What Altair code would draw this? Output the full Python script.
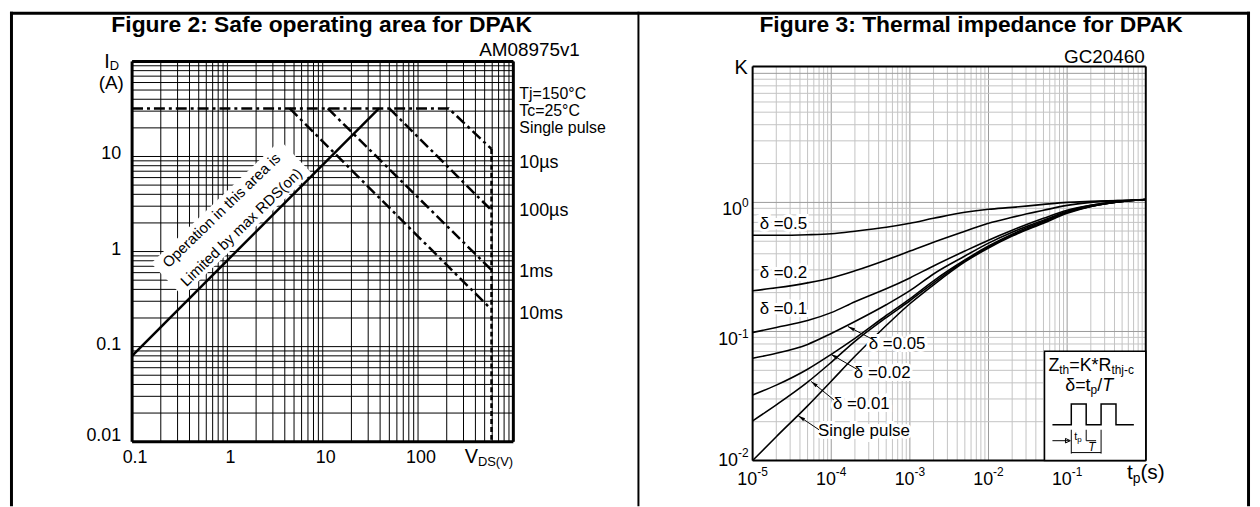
import math
import altair as alt
import pandas as pd

FONT = "Liberation Sans"

# ================= Figure 2 : safe operating area (DPAK) =================
soa_vds_ticks = [0.1, 1, 10, 100]
soa_vds_tick_text = ["0.1", "1", "10", "100"]
soa_id_ticks = [0.01, 0.1, 1, 10]
soa_id_tick_text = ["0.01", "0.1", "1", "10"]

rds_vds = [0.1, 39]
rds_id = [0.08, 32]

pulse_10us_vds = [0.1, 210, 590]
pulse_10us_id = [32, 32, 12]
pulse_100us_vds = [50, 576]
pulse_100us_id = [32, 2.78]
pulse_1ms_vds = [11.3, 590]
pulse_1ms_id = [32, 0.64]
pulse_10ms_vds = [4.5, 550]
pulse_10ms_id = [32, 0.263]
vdss_vds = [590, 590]
vdss_id = [12, 0.01]

pulse_text = ["10µs", "100µs", "1ms", "10ms"]
pulse_text_id = [8.6, 2.7, 0.61, 0.22]
cond_text = ["Tj=150°C", "Tc=25°C", "Single pulse"]

note_text = ["Operation in this area is", "Limited by max RDS(on)"]
note_vds = [0.866, 1.40]
note_id = [2.71, 1.80]
note_box_vds = [0.232, 5.23]
note_box_id = [0.504, 9.94]

# ================= Figure 3 : thermal impedance (DPAK) =================
tp = [1e-5, 2e-5, 5e-5, 1e-4, 2e-4, 5e-4, 1e-3, 2e-3, 5e-3, 1e-2, 2e-2, 5e-2, 1e-1, 2e-1, 5e-1, 1.0]
k_d05 = [0.557, 0.557, 0.562, 0.572, 0.598, 0.642, 0.690, 0.753, 0.838, 0.884, 0.915, 0.965, 1.000, 1.018, 1.036, 1.054]
k_d02 = [0.207, 0.218, 0.238, 0.260, 0.295, 0.358, 0.420, 0.492, 0.598, 0.690, 0.767, 0.868, 0.948, 1.000, 1.036, 1.054]
k_d01 = [0.0982, 0.1074, 0.1215, 0.140, 0.170, 0.214, 0.260, 0.322, 0.420, 0.510, 0.609, 0.753, 0.868, 0.948, 1.018, 1.054]
k_d005 = [0.0620, 0.0677, 0.0794, 0.0965, 0.1194, 0.161, 0.207, 0.279, 0.384, 0.484, 0.588, 0.727, 0.853, 0.948, 1.018, 1.054]
k_d002 = [0.0322, 0.0384, 0.0510, 0.0665, 0.0884, 0.133, 0.179, 0.247, 0.358, 0.459, 0.567, 0.714, 0.838, 0.932, 1.018, 1.054]
k_d001 = [0.0203, 0.0270, 0.0405, 0.0577, 0.0838, 0.128, 0.173, 0.238, 0.352, 0.451, 0.557, 0.702, 0.838, 0.932, 1.018, 1.054]
k_single = [0.0100, 0.0153, 0.0265, 0.0412, 0.0642, 0.1112, 0.164, 0.230, 0.346, 0.443, 0.548, 0.690, 0.823, 0.932, 1.018, 1.054]
zth_series = ["d05", "d02", "d01", "d005", "d002", "d001", "single"]
zth_values = [k_d05, k_d02, k_d01, k_d005, k_d002, k_d001, k_single]

zth_label_text = ["δ =0.5", "δ =0.2", "δ =0.1", "δ =0.05", "δ =0.02", "δ =0.01", "Single pulse"]
zth_label_tp = [1.23e-5, 1.23e-5, 1.23e-5, 3.0e-4, 1.94e-4, 1.05e-4, 6.8e-5]
zth_label_k = [0.677, 0.284, 0.148, 0.0794, 0.0475, 0.0274, 0.0170]
arrow_tail_tp = [3.37e-4, 2.12e-4, 1.08e-4, 7.01e-5]
arrow_tail_k = [0.0868, 0.0510, 0.0295, 0.0173]
arrow_head_tp = [1.63e-4, 9.94e-5, 5.56e-5, 3.81e-5]
arrow_head_k = [0.1093, 0.0665, 0.041, 0.0222]

zth_x_ticks = [1e-5, 1e-4, 1e-3, 1e-2, 1e-1]
zth_x_exp = ["-5", "-4", "-3", "-2", "-1"]
zth_y_ticks = [0.01, 0.1, 1]
zth_y_exp = ["-2", "-1", "0"]

# ================= layout =================
W1, H1 = 384, 383
W2, H2 = 396, 402
Y2_TOP = 5
GAP = 241
K_TOP = 11.32

X1 = alt.Scale(type="log", domain=[0.1, 1000])
Y1 = alt.Scale(type="log", domain=[0.01, 100])
X2 = alt.Scale(type="log", domain=[1e-5, 1])
Y2 = alt.Scale(type="log", domain=[0.01, K_TOP], range=[H2, Y2_TOP])

ONE = pd.DataFrame({"o": [0]})

CW = {"0": 556, "1": 556, "2": 556, "3": 556, "4": 556, "5": 556, "6": 556, "7": 556,
      "8": 556, "9": 556, " ": 278, ".": 278, "-": 333, "(": 333, ")": 333, "=": 584,
      "*": 389, "/": 278, "δ": 556, "D": 722, "S": 667, "V": 667, "K": 667, "R": 722,
      "Z": 611, "T": 611, "A": 667, "I": 278, "s": 500, "t": 278, "p": 556, "h": 556,
      "j": 222, "c": 500}


def tw(s, size):
    return sum(CW.get(c, 556) for c in s) * size / 1000.0


def rule(x1, y1, x2=None, y2=None, width=1.0, color="black"):
    enc = {"x": alt.value(x1), "y": alt.value(y1)}
    if x2 is not None:
        enc["x2"] = alt.value(x2)
    if y2 is not None:
        enc["y2"] = alt.value(y2)
    return alt.Chart(ONE).mark_rule(color=color, strokeWidth=width).encode(**enc)


def label(text, x, y, size, align="left", baseline="alphabetic", bold=False, italic=False):
    kw = dict(text=text, font=FONT, fontSize=size, align=align, baseline=baseline, color="black")
    if bold:
        kw["fontWeight"] = "bold"
    if italic:
        kw["fontStyle"] = "italic"
    return alt.Chart(ONE).mark_text(**kw).encode(x=alt.value(x), y=alt.value(y))


def rich(x, y, parts, anchor="left"):
    total = sum(tw(p[0], p[1]) for p in parts)
    cur = x - {"left": 0, "center": total / 2, "right": total}[anchor]
    out = []
    for t, s, dy, it in parts:
        out.append(label(t, cur, y + dy, s, italic=it))
        cur += tw(t, s)
    return out


# ----------------------------- left panel -----------------------------
soa_vgrid = [m * 10.0 ** e for e in (-1, 0, 1, 2) for m in range(1, 10)] + [1000.0]
soa_hgrid = [m * 10.0 ** e for e in (-2, -1, 0, 1) for m in range(1, 10)] + [100.0]

def xv1(f="v"):
    return alt.X(f"{f}:Q", scale=X1, axis=None)

def yi1(f="i"):
    return alt.Y(f"{f}:Q", scale=Y1, axis=None)

L = []
L.append(alt.Chart(pd.DataFrame({"v": soa_vgrid})).mark_rule(color="black", strokeWidth=1)
         .encode(x=xv1(), y=alt.value(0), y2=alt.value(H1)))
L.append(alt.Chart(pd.DataFrame({"i": soa_hgrid})).mark_rule(color="black", strokeWidth=1)
         .encode(y=yi1(), x=alt.value(0), x2=alt.value(W1)))

L.append(alt.Chart(pd.DataFrame({"v": note_box_vds, "i": note_box_id}))
         .mark_line(color="white", strokeWidth=46, strokeCap="butt").encode(x=xv1(), y=yi1()))
L.append(alt.Chart(pd.DataFrame({"v": note_vds, "i": note_id, "t": note_text}))
         .mark_text(font=FONT, fontSize=15, angle=316, align="center", baseline="middle", color="black")
         .encode(x=xv1(), y=yi1(), text="t:N"))

L.append(alt.Chart(pd.DataFrame({"v": rds_vds, "i": rds_id}))
         .mark_line(color="black", strokeWidth=2.5).encode(x=xv1(), y=yi1()))

prow = []
for name, vs, iis in [("10us", pulse_10us_vds, pulse_10us_id), ("100us", pulse_100us_vds, pulse_100us_id),
                      ("1ms", pulse_1ms_vds, pulse_1ms_id), ("10ms", pulse_10ms_vds, pulse_10ms_id)]:
    for o, (v, i) in enumerate(zip(vs, iis)):
        prow.append({"s": name, "o": o, "v": v, "i": i})
L.append(alt.Chart(pd.DataFrame(prow))
         .mark_line(color="black", strokeWidth=2.5, strokeDash=[11, 4, 3, 4])
         .encode(x=xv1(), y=yi1(), detail="s:N", order="o:Q"))
L.append(alt.Chart(pd.DataFrame({"v": vdss_vds, "i": vdss_id, "o": [0, 1]}))
         .mark_line(color="black", strokeWidth=2.5, strokeDash=[5, 3])
         .encode(x=xv1(), y=yi1(), order="o:Q"))

# plot frame
L += [rule(0, 0, W1, None, 3), rule(0, H1, W1, None, 3), rule(0, 0, None, H1, 3), rule(W1, 0, None, H1, 3)]

# tick labels
L.append(alt.Chart(pd.DataFrame({"v": soa_vds_ticks, "t": soa_vds_tick_text}))
         .mark_text(font=FONT, fontSize=18, align="center", baseline="alphabetic", color="black", dx=3)
         .encode(x=xv1(), y=alt.value(404), text="t:N"))
L.append(alt.Chart(pd.DataFrame({"i": soa_id_ticks[1:], "t": soa_id_tick_text[1:]}))
         .mark_text(font=FONT, fontSize=18, align="right", baseline="middle", dy=-2, color="black")
         .encode(y=yi1(), x=alt.value(-11), text="t:N"))
L.append(alt.Chart(pd.DataFrame({"i": soa_id_ticks[:1], "t": soa_id_tick_text[:1]}))
         .mark_text(font=FONT, fontSize=18, align="right", baseline="middle", dy=-6, color="black")
         .encode(y=yi1(), x=alt.value(-11), text="t:N"))

L.append(alt.Chart(pd.DataFrame({"i": pulse_text_id, "t": pulse_text}))
         .mark_text(font=FONT, fontSize=18, align="left", baseline="middle", color="black")
         .encode(y=yi1(), x=alt.value(390), text="t:N"))
for n, t in enumerate(cond_text):
    L.append(label(t, 390, 38 + 17 * n, 16))

L.append(label("Figure 2: Safe operating area for DPAK", 191, -29.5, 23, align="center", bold=True))
L.append(label("AM08975v1", 451, -5, 19, align="right"))
L += rich(-28, 7, [("I", 20, 0, False), ("D", 13, 2, False)])
L.append(label("(A)", -21, 28, 19, align="center"))
L += rich(335, 404, [("V", 20, 0, False), ("DS(V)", 13, 4, False)])

# table frame
L += [rule(-123, -48.5, 1126, None, 3), rule(-121.5, -50, None, 448, 3),
      rule(510, -50, None, 448, 2), rule(1124.5, -50, None, 448, 3)]

left = alt.layer(*L).properties(width=W1, height=H1)

# ----------------------------- right panel -----------------------------
x_major = [1e-5, 1e-4, 1e-3, 1e-2, 1e-1, 1.0]
x_minor = [m * 10.0 ** e for e in (-5, -4, -3, -2, -1) for m in range(2, 10)]
y_major = [0.01, 0.1, 1.0, 10.0]
y_minor = [m * 10.0 ** e for e in (-2, -1, 0) for m in range(2, 10)]

def xt2(f="t"):
    return alt.X(f"{f}:Q", scale=X2, axis=None)

def yk2(f="k"):
    return alt.Y(f"{f}:Q", scale=Y2, axis=None)

R = []
for vals, col in [(x_minor, "#c4c4c4"), (x_major, "#9a9a9a")]:
    R.append(alt.Chart(pd.DataFrame({"t": vals})).mark_rule(color=col, strokeWidth=1)
             .encode(x=xt2(), y=alt.value(Y2_TOP), y2=alt.value(H2)))
for vals, col in [(y_minor, "#c4c4c4"), (y_major, "#9a9a9a")]:
    R.append(alt.Chart(pd.DataFrame({"k": vals})).mark_rule(color=col, strokeWidth=1)
             .encode(y=yk2(), x=alt.value(0), x2=alt.value(W2)))

crow = []
for name, ks in zip(zth_series, zth_values):
    for o, (t, k) in enumerate(zip(tp, ks)):
        crow.append({"s": name, "o": o, "t": t, "k": k})
R.append(alt.Chart(pd.DataFrame(crow))
         .mark_line(color="black", strokeWidth=1.6, interpolate="monotone")
         .encode(x=xt2(), y=yk2(), detail="s:N", order="o:Q"))

lab = pd.DataFrame({"t": zth_label_tp, "k": zth_label_k, "s": zth_label_text})
R.append(alt.Chart(lab).mark_text(font=FONT, fontSize=17, align="left", baseline="middle",
                                  color="white", stroke="white", strokeWidth=6)
         .encode(x=xt2(), y=yk2(), text="s:N"))
R.append(alt.Chart(lab).mark_text(font=FONT, fontSize=17, align="left", baseline="middle", color="black")
         .encode(x=xt2(), y=yk2(), text="s:N"))

px_dec_x = W2 / 5.0
px_dec_y = (H2 - Y2_TOP) / math.log10(K_TOP / 0.01)
angs = []
for a, b, c, d in zip(arrow_tail_tp, arrow_tail_k, arrow_head_tp, arrow_head_k):
    dx = px_dec_x * (math.log10(c) - math.log10(a))
    dy = -px_dec_y * (math.log10(d) - math.log10(b))
    angs.append(math.degrees(math.atan2(dx, -dy)) % 360)
arr = pd.DataFrame({"t": arrow_tail_tp, "k": arrow_tail_k, "t2": arrow_head_tp, "k2": arrow_head_k, "a": angs})
R.append(alt.Chart(arr).mark_rule(color="black", strokeWidth=1)
         .encode(x=xt2(), y=yk2(), x2="t2:Q", y2="k2:Q"))
R.append(alt.Chart(arr).mark_point(shape="M0,0L0.38,1.5L-0.38,1.5Z", filled=True, size=90,
                                   color="black", opacity=1)
         .encode(x=xt2("t2"), y=yk2("k2"), angle=alt.Angle("a:Q", scale=None)))

# plot frame
R += [rule(0, Y2_TOP, W2, None, 2), rule(0, H2, W2, None, 2),
      rule(0, Y2_TOP, None, H2, 2), rule(W2, Y2_TOP, None, H2, 2)]

# inset box
R.append(alt.Chart(ONE).mark_rect(fill="white", stroke="black", strokeWidth=1.5)
         .encode(x=alt.value(294), x2=alt.value(396), y=alt.value(292), y2=alt.value(402)))
R += rich(341, 312, [("Z", 18, 0, False), ("th", 12, 3, False), ("=K*R", 18, 0, False), ("thj-c", 12, 3, False)],
          anchor="center")
R += rich(339, 332, [("δ=t", 18, 0, False), ("p", 12, 3, False), ("/", 18, 0, False), ("T", 18, 0, True)],
          anchor="center")
R.append(alt.Chart(ONE).mark_point(shape="M-1,0.256H-0.537V-0.256H-0.171V0.256H0.195V-0.256H0.561V0.256H1",
                                   filled=False, size=6724, color="black", strokeWidth=1.5, opacity=1)
         .encode(x=alt.value(343), y=alt.value(355.5)))
R.append(alt.Chart(ONE).mark_point(
    shape="M-1,-0.024H-0.585M-0.56,-0.024L-0.68,-0.08L-0.68,0.032ZM-0.537,-0.293V0.293"
          "M-0.171,-0.293V-0.024H0.073M0.195,-0.293V0.293M-0.537,0.268H0.195",
    filled=False, size=6724, color="black", strokeWidth=1, opacity=1)
         .encode(x=alt.value(343), y=alt.value(383)))
R += rich(324, 381, [("t", 11, 0, False), ("p", 8, 2, False)])
R.append(label("T", 338, 392, 12, italic=True))

# tick labels
xl = pd.DataFrame({"t": zth_x_ticks, "e": zth_x_exp})
R.append(alt.Chart(xl).mark_text(text="10", font=FONT, fontSize=18, align="left", dx=-15.35, color="black")
         .encode(x=xt2(), y=alt.value(422)))
R.append(alt.Chart(xl).mark_text(font=FONT, fontSize=12, align="left", dx=4.65, color="black")
         .encode(x=xt2(), y=alt.value(413.5), text="e:N"))
for v, e, bdy, edy in zip(zth_y_ticks, zth_y_exp, [0, 9, 8], [-8, 3, 1]):
    d = pd.DataFrame({"k": [v], "e": [e]})
    supw = tw(e, 12)
    R.append(alt.Chart(d).mark_text(text="10", font=FONT, fontSize=18, align="right", dy=bdy,
                                    color="black").encode(y=yk2(), x=alt.value(-4 - supw)))
    R.append(alt.Chart(d).mark_text(font=FONT, fontSize=12, align="right", dy=edy, color="black")
             .encode(y=yk2(), x=alt.value(-4), text="e:N"))

R.append(label("K", -5, 13, 20, align="right"))
R.append(label("GC20460", 395, 2, 19, align="right"))
R += rich(377, 421, [("t", 21, 0, False), ("p", 14, 4, False), ("(s)", 21, 0, False)])
R.append(label("Figure 3: Thermal impedance for DPAK", 220, -29.5, 23, align="center", bold=True))

right = alt.layer(*R).properties(width=W2, height=H2)

chart = (alt.hconcat(left, right, spacing=GAP, bounds="flush")
         .properties(padding=0, background="white")
         .configure_view(stroke=None))

chart.save("out.html", embed_options={"renderer": "svg", "actions": False})
